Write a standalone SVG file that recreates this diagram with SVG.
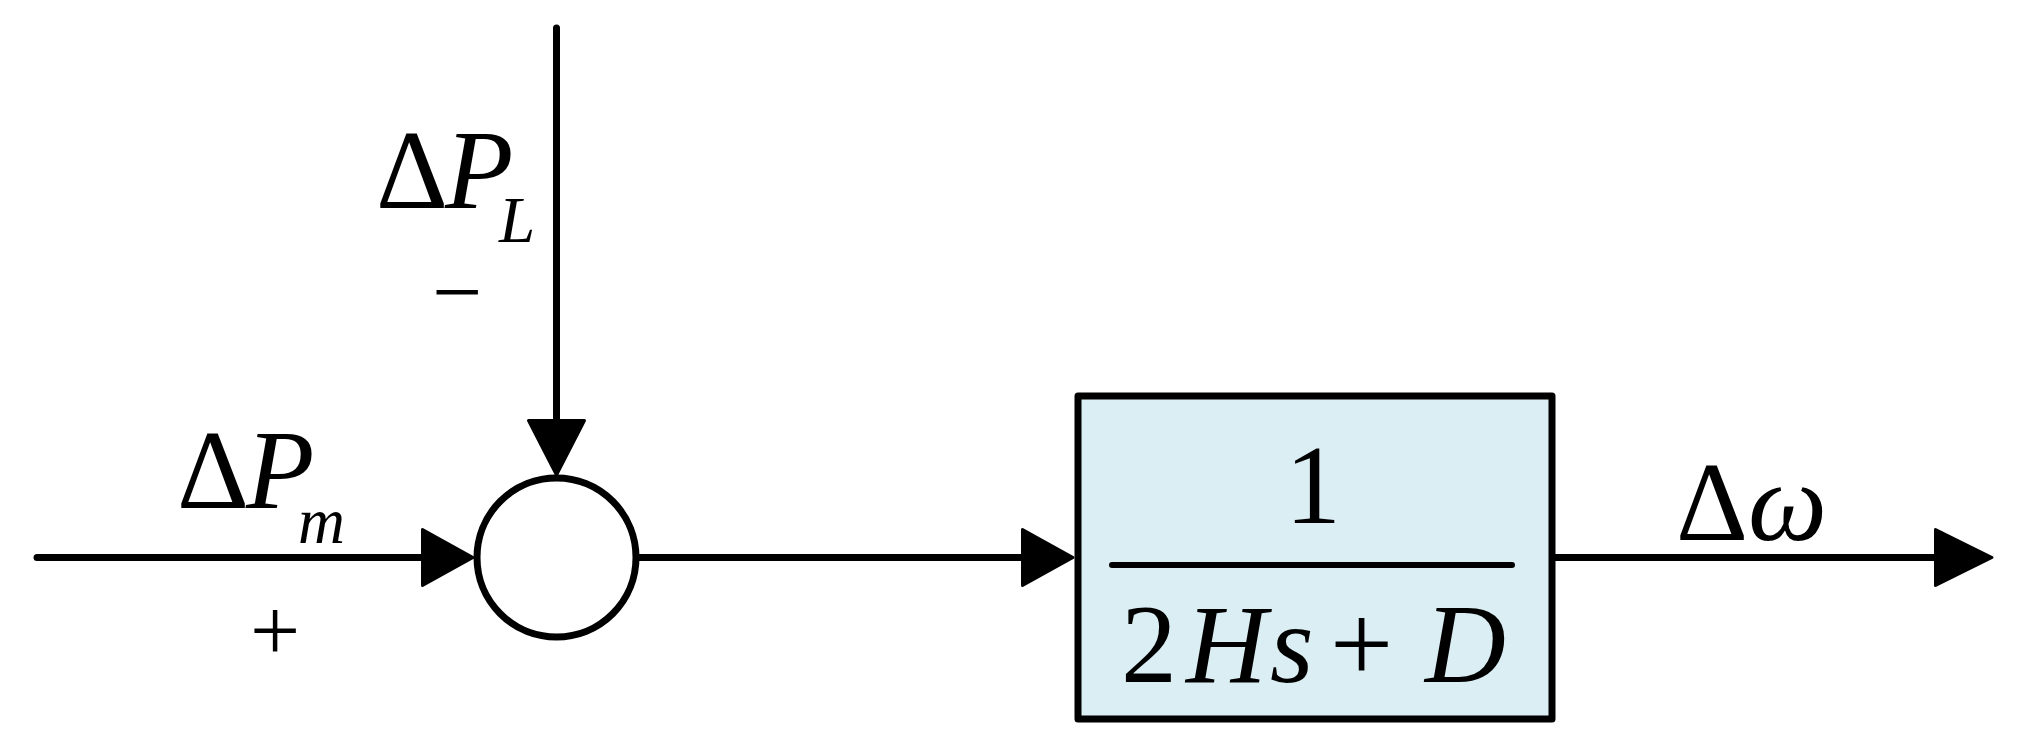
<svg xmlns="http://www.w3.org/2000/svg" width="2019" height="745" viewBox="0 0 2019 745">
<style>
.ln{stroke:#000;stroke-width:7;fill:none;stroke-linecap:round}
.ah{fill:#000;stroke:#000;stroke-width:3;stroke-linejoin:round}
.t{font-family:"Liberation Serif","Times New Roman",serif;font-size:112px;fill:#000}
.s{font-family:"Liberation Serif","Times New Roman",serif;font-size:65px;fill:#000;font-style:italic}
.g{font-family:"Liberation Serif","Times New Roman",serif;font-size:89px;fill:#000}
.i{font-style:italic}
</style>
<rect width="2019" height="745" fill="#fff"/>
<g id="connectors">
  <line class="ln" x1="37" y1="557.5" x2="424" y2="557.5"/>
  <polygon class="ah" points="422.5,529.5 422.5,585.5 473,557.5"/>
  <line class="ln" x1="556.5" y1="28" x2="556.5" y2="422"/>
  <polygon class="ah" points="528.5,420.5 584.5,420.5 556.5,475"/>
  <line class="ln" x1="639" y1="557.5" x2="1024" y2="557.5"/>
  <polygon class="ah" points="1022.5,529.5 1022.5,585.5 1073,557.5"/>
  <line class="ln" x1="1555" y1="557.5" x2="1937" y2="557.5"/>
  <polygon class="ah" points="1935.5,529.5 1935.5,585.5 1992,557.5"/>
</g>
<g id="label-dPm">
  <text class="t" x="177" y="508">Δ<tspan class="i" x="246">P</tspan></text>
  <text class="s" x="298" y="543">m</text>
  <text class="g" x="275" y="660" text-anchor="middle">+</text>
</g>
<g id="label-dPL">
  <text class="t" x="376" y="208">Δ<tspan class="i" x="445">P</tspan></text>
  <text class="s" x="499" y="242">L</text>
  <text class="g" x="457" y="322" text-anchor="middle">−</text>
</g>
<g id="sum">
  <circle cx="556.5" cy="557.5" r="79.5" fill="#fff" stroke="#000" stroke-width="7"/>
</g>
<g id="block">
  <rect x="1078" y="396" width="474" height="323" fill="#DBEEF3" stroke="#000" stroke-width="7" stroke-linejoin="round"/>
  <text class="t" x="1313" y="523" text-anchor="middle">1</text>
  <line x1="1112" y1="565" x2="1512" y2="565" stroke="#000" stroke-width="6" stroke-linecap="round"/>
  <text class="t" x="1121" y="682">2<tspan class="i" x="1186">H</tspan><tspan class="i" x="1270">s</tspan><tspan x="1330">+</tspan><tspan class="i" x="1425">D</tspan></text>
</g>
<g id="label-dw">
  <text class="t" x="1676" y="540">Δ<tspan class="i" x="1748">ω</tspan></text>
</g>
</svg>
